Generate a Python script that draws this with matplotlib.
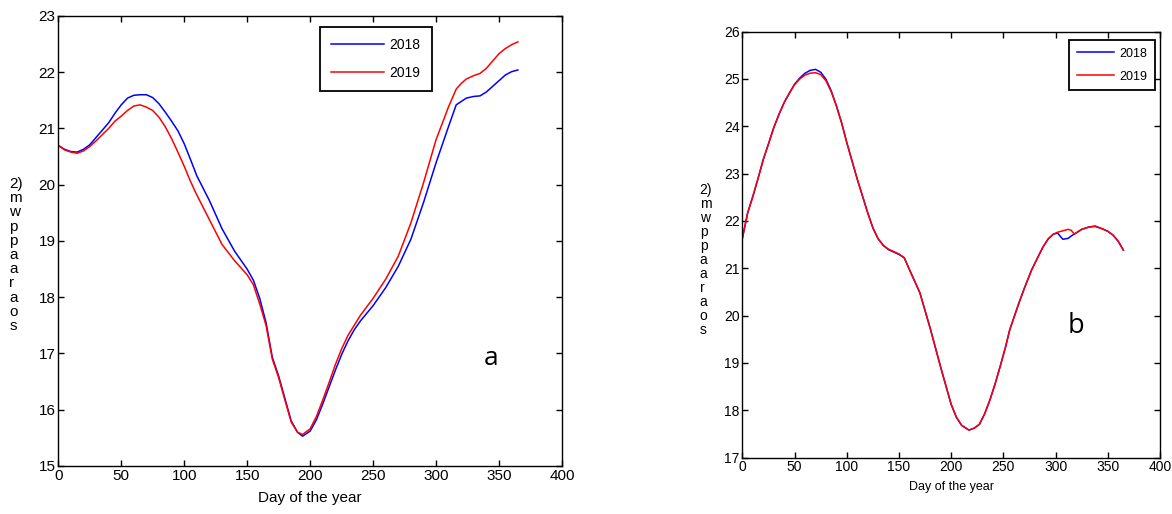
import matplotlib.pyplot as plt

plt.rcParams['font.family'] = ['Liberation Sans', 'DejaVu Sans']

# panel a: daily values sampled along the year
days_a = [0, 5, 10, 15, 20, 25, 30, 40, 45, 50, 55, 60, 65, 70, 75, 80, 85, 90, 95, 100,
          105, 110, 120, 130, 140, 150, 155, 160, 165, 170, 175, 180, 185, 190, 194, 200,
          205, 210, 215, 220, 225, 230, 235, 240, 250, 260, 270, 280, 290, 300, 310, 316,
          320, 324, 330, 335, 340, 345, 350, 355, 360, 365]
a_2018 = [20.70, 20.63, 20.59, 20.58, 20.63, 20.71, 20.84, 21.10, 21.27, 21.42, 21.54,
          21.59, 21.60, 21.60, 21.55, 21.44, 21.29, 21.13, 20.96, 20.73, 20.45, 20.16,
          19.72, 19.22, 18.82, 18.50, 18.30, 17.98, 17.55, 16.93, 16.60, 16.20, 15.80,
          15.60, 15.53, 15.62, 15.82, 16.10, 16.40, 16.70, 16.98, 17.22, 17.42, 17.58,
          17.85, 18.17, 18.55, 19.03, 19.68, 20.39, 21.04, 21.42, 21.48, 21.54, 21.57,
          21.58, 21.65, 21.75, 21.85, 21.95, 22.01, 22.04]
a_2019 = [20.70, 20.62, 20.58, 20.56, 20.60, 20.68, 20.78, 21.00, 21.13, 21.22, 21.32,
          21.40, 21.42, 21.38, 21.32, 21.20, 21.03, 20.82, 20.58, 20.33, 20.06, 19.82,
          19.38, 18.94, 18.65, 18.40, 18.22, 17.88, 17.50, 16.90, 16.57, 16.17, 15.78,
          15.60, 15.56, 15.66, 15.88, 16.17, 16.48, 16.80, 17.08, 17.32, 17.50, 17.68,
          17.98, 18.32, 18.73, 19.32, 20.03, 20.80, 21.39, 21.70, 21.80, 21.88, 21.94,
          21.98, 22.07, 22.20, 22.33, 22.42, 22.49, 22.54]

# panel b
days_b = [0, 5, 10, 15, 20, 25, 30, 35, 40, 45, 50, 55, 60, 65, 70, 75, 80, 85, 90, 95,
          100, 110, 120, 125, 130, 135, 140, 150, 155, 160, 170, 180, 190, 200, 205, 210,
          217, 222, 227, 232, 237, 242, 247, 252, 256, 260, 265, 270, 277, 283, 288, 293,
          298, 302, 307, 312, 315, 318, 325, 332, 338, 345, 350, 355, 360, 365]
b_2018 = [21.64, 22.17, 22.52, 22.90, 23.30, 23.63, 23.97, 24.25, 24.50, 24.70, 24.89,
          25.02, 25.12, 25.18, 25.20, 25.14, 24.99, 24.75, 24.43, 24.07, 23.65, 22.88,
          22.17, 21.85, 21.62, 21.48, 21.39, 21.29, 21.22, 20.97, 20.48, 19.72, 18.90,
          18.12, 17.85, 17.68, 17.58, 17.62, 17.70, 17.92, 18.21, 18.55, 18.93, 19.33,
          19.69, 19.95, 20.27, 20.57, 20.96, 21.23, 21.45, 21.62, 21.72, 21.74, 21.61,
          21.63, 21.68, 21.72, 21.82, 21.87, 21.89, 21.83, 21.78, 21.70, 21.57, 21.38]
b_2019 = [21.64, 22.17, 22.52, 22.90, 23.30, 23.63, 23.97, 24.25, 24.50, 24.70, 24.88,
          25.00, 25.08, 25.12, 25.13, 25.09, 24.96, 24.73, 24.43, 24.07, 23.65, 22.88,
          22.17, 21.85, 21.62, 21.48, 21.40, 21.30, 21.22, 20.97, 20.48, 19.72, 18.90,
          18.12, 17.85, 17.68, 17.58, 17.62, 17.70, 17.92, 18.21, 18.55, 18.93, 19.33,
          19.69, 19.95, 20.27, 20.57, 20.96, 21.23, 21.45, 21.62, 21.72, 21.76, 21.79,
          21.82, 21.80, 21.72, 21.82, 21.87, 21.88, 21.83, 21.78, 21.70, 21.57, 21.38]

years = ['2018', '2019']
ylab = "2)\nm\nw\np\np\na\na\nr\na\no\ns"

fig = plt.figure(figsize=(11.72, 5.14), dpi=100)
ax1 = fig.add_axes([0.0497, 0.0934, 0.4298, 0.8755])
ax2 = fig.add_axes([0.6335, 0.1099, 0.3562, 0.8288])


def style(ax, ylim, fs, xfs, pad):
    ax.set_xlim(0, 400)
    ax.set_ylim(*ylim)
    ax.set_xticks(range(0, 401, 50))
    ax.set_yticks(range(ylim[0], ylim[1] + 1))
    ax.tick_params(direction='in', top=True, right=True, length=4, width=1,
                   labelsize=fs, pad=2)
    for s in ax.spines.values():
        s.set_linewidth(1)
    ax.set_xlabel('Day of the year', fontsize=xfs, labelpad=pad)


ax1.plot(days_a, a_2018, color='blue', lw=1.1, label=years[0])
ax1.plot(days_a, a_2019, color='red', lw=1.1, label=years[1])
style(ax1, (15, 23), 11, 11, 6)
leg = ax1.legend(loc='upper left', bbox_to_anchor=(0.52, 0.975), fontsize=10,
                 fancybox=False, edgecolor='black', framealpha=1, handlelength=3.8,
                 handletextpad=0.4, borderpad=0.8, labelspacing=1.0,
                 borderaxespad=0)
leg.get_frame().set_linewidth(1.3)
ax1.text(0.845, 0.224, 'a', transform=ax1.transAxes, fontsize=19,
         family='Open Sans', va='baseline')

ax2.plot(days_b, b_2018, color='blue', lw=1.1, label=years[0])
ax2.plot(days_b, b_2019, color='red', lw=1.1, label=years[1])
style(ax2, (17, 26), 10, 9, 5)
leg = ax2.legend(loc='upper right', bbox_to_anchor=(0.988, 0.98), fontsize=9,
                 fancybox=False, edgecolor='black', framealpha=1, handlelength=3.0,
                 handletextpad=0.4, borderpad=0.6, labelspacing=0.9,
                 borderaxespad=0)
leg.get_frame().set_linewidth(1.3)
ax2.text(0.78, 0.292, 'b', transform=ax2.transAxes, fontsize=19.5,
         family='Open Sans', va='baseline')

fig.text(0.008, 0.504, ylab, fontsize=11, linespacing=1.02, va='center', ha='left')
fig.text(0.597, 0.494, ylab, fontsize=10, linespacing=1.0, va='center', ha='left')

fig.savefig('out.png', dpi=100)
